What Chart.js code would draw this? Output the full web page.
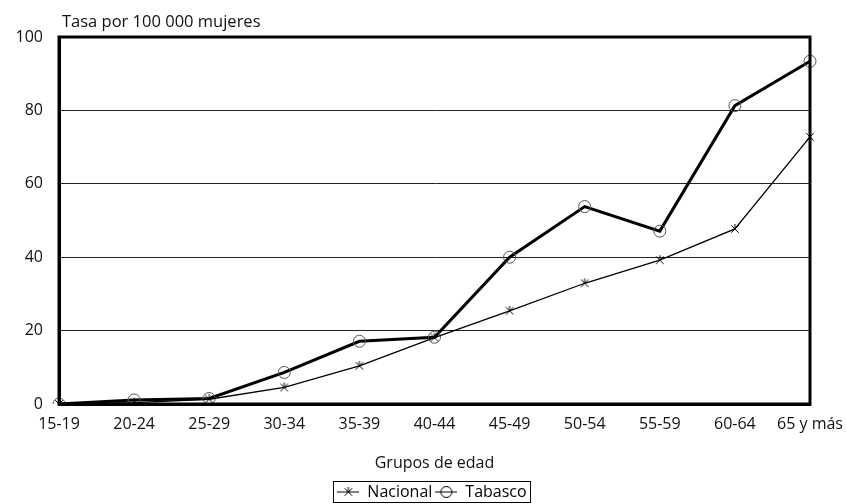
<!DOCTYPE html>
<html>
<head>
<meta charset="utf-8">
<script src="https://cdn.jsdelivr.net/npm/chart.js@4/dist/chart.umd.min.js"></script>
<style>
  html, body { margin: 0; padding: 0; background: #fff; }
  #wrap { width: 847px; height: 504px; }
</style>
</head>
<body>
<div id="wrap"><canvas id="chart" width="847" height="504"></canvas></div>
<script>
const ageGroups = ["15-19", "20-24", "25-29", "30-34", "35-39", "40-44", "45-49", "50-54", "55-59", "60-64", "65 y más"];
const nacional = [0, 0.4, 1.3, 4.5, 10.4, 18.1, 25.4, 32.9, 39.2, 47.7, 72.8];
const tabasco = [0, 1.1, 1.5, 8.6, 17.1, 18.2, 40.0, 53.8, 47.1, 81.3, 93.4];
const yTicks = [0, 20, 40, 60, 80, 100];

const FONT = "'Open Sans', 'Noto Sans', sans-serif";

// asterisk marker for the national series: an X plus an upper vertical arm
function starMarker(size, withLine) {
  const c = document.createElement("canvas");
  c.width = withLine ? 22 : size;
  c.height = size;
  const ctx = c.getContext("2d");
  const cx = c.width / 2, cy = size / 2, r = size / 2 - 1;
  ctx.strokeStyle = "#000";
  ctx.lineWidth = 1;
  ctx.beginPath();
  if (withLine) {
    ctx.moveTo(0, cy); ctx.lineTo(c.width, cy);
  }
  ctx.moveTo(cx, cy - r); ctx.lineTo(cx, cy);
  ctx.moveTo(cx - r * 0.75, cy + r * 0.75); ctx.lineTo(cx + r * 0.75, cy - r * 0.75);
  ctx.moveTo(cx + r * 0.75, cy + r * 0.75); ctx.lineTo(cx - r * 0.75, cy - r * 0.75);
  ctx.stroke();
  return c;
}

function circleLegend() {
  const c = document.createElement("canvas");
  c.width = 22; c.height = 14;
  const ctx = c.getContext("2d");
  ctx.strokeStyle = "#000";
  ctx.lineWidth = 1;
  ctx.beginPath();
  ctx.moveTo(0, 7); ctx.lineTo(22, 7);
  ctx.stroke();
  ctx.beginPath();
  ctx.arc(11, 7, 5.5, 0, Math.PI * 2);
  ctx.stroke();
  return c;
}

const plotFrame = {
  id: "plotFrame",
  // centre the legend under the plot area and drop it a little
  afterUpdate(chart) {
    const legend = chart.legend;
    const dx = 24, dy = 6;
    legend.left += dx; legend.right += dx;
    legend.top += dy; legend.bottom += dy;
    legend.legendHitBoxes.forEach(b => { b.left += dx; b.top += dy; });
  },
  afterDatasetsDraw(chart) {
    const { ctx, chartArea: a } = chart;
    ctx.save();
    ctx.strokeStyle = "#000";
    ctx.lineWidth = 3;
    ctx.strokeRect(a.left, a.top, a.right - a.left, a.bottom - a.top);
    ctx.restore();
  },
  afterDraw(chart) {
    const { ctx, chartArea: a } = chart;
    ctx.save();
    ctx.fillStyle = "#111";
    ctx.font = "16.5px " + FONT;
    ctx.textBaseline = "alphabetic";
    ctx.fillText("Tasa por 100 000 mujeres", a.left + 3, 27);
    // box around the legend items
    const boxes = chart.legend.legendHitBoxes;
    if (boxes && boxes.length) {
      const l = Math.min(...boxes.map(b => b.left)) - 4;
      const r = Math.max(...boxes.map(b => b.left + b.width)) + 4;
      const t = Math.min(...boxes.map(b => b.top)) - 3;
      const btm = Math.min(Math.max(...boxes.map(b => b.top + b.height)) + 2, 502);
      ctx.strokeStyle = "#000";
      ctx.lineWidth = 1;
      ctx.strokeRect(Math.round(l) + 0.5, Math.round(t) + 0.5, Math.round(r - l), Math.round(btm - t));
    }
    ctx.restore();
  }
};

const nacionalMarker = starMarker(12, false);

new Chart(document.getElementById("chart"), {
  type: "line",
  data: {
    labels: ageGroups,
    datasets: [
      {
        label: "Nacional",
        data: nacional,
        borderColor: "#000",
        borderWidth: 1.3,
        pointStyle: nacionalMarker,
        pointRadius: 6,
        tension: 0
      },
      {
        label: "Tabasco",
        data: tabasco,
        borderColor: "#000",
        borderWidth: 3,
        pointStyle: "circle",
        pointRadius: 6,
        pointBorderWidth: 1,
        pointBorderColor: "#555",
        pointBackgroundColor: "rgba(0,0,0,0)",
        tension: 0
      }
    ]
  },
  options: {
    responsive: false,
    animation: false,
    layout: { padding: { top: 37, right: 37, left: 6, bottom: 0 } },
    plugins: {
      tooltip: { enabled: false },
      legend: {
        position: "bottom",
        labels: {
          usePointStyle: true,
          pointStyleWidth: 22,
          padding: 3,
          color: "#111",
          font: { family: FONT, size: 16 },
          generateLabels() {
            return [
              { text: "Nacional", pointStyle: starMarker(12, true), fillStyle: "#000", strokeStyle: "#000", lineWidth: 0, datasetIndex: 0 },
              { text: "Tabasco", pointStyle: circleLegend(), fillStyle: "#000", strokeStyle: "#000", lineWidth: 0, datasetIndex: 1 }
            ];
          }
        }
      }
    },
    scales: {
      x: {
        offset: false,
        afterFit(scale) {
          scale.height = 71;
          scale.paddingLeft = 0;
          scale.paddingRight = 0;
        },
        grid: { display: false, drawTicks: false },
        border: { display: true, color: "#000", width: 3 },
        ticks: { color: "#111", font: { family: FONT, size: 16 }, padding: 11, maxRotation: 0, autoSkip: false },
        title: { display: true, text: "Grupos de edad", color: "#111", font: { family: FONT, size: 16 }, padding: { top: 8, bottom: 2 } }
      },
      y: {
        min: 0,
        max: 100,
        afterFit(scale) { scale.width = 53; },
        afterBuildTicks(scale) { scale.ticks = yTicks.map(v => ({ value: v })); },
        grid: { color: "#222", lineWidth: 1, drawTicks: false },
        border: { display: true, color: "#000", width: 3 },
        ticks: { color: "#111", font: { family: FONT, size: 16 }, padding: 16 }
      }
    }
  },
  plugins: [plotFrame]
});
</script>
</body>
</html>
